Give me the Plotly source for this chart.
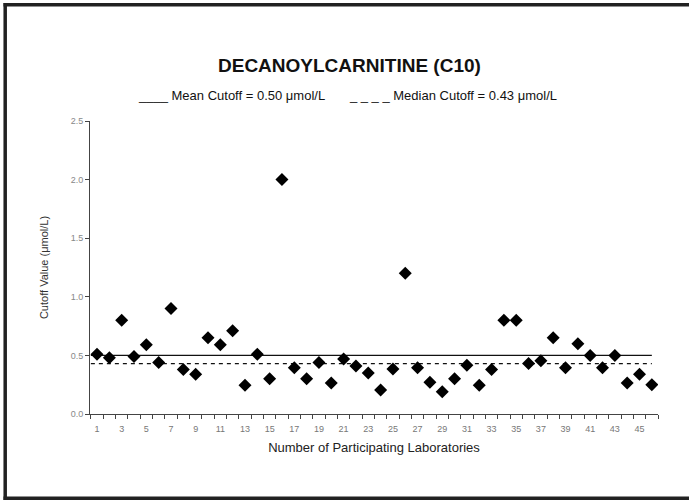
import plotly.graph_objects as go

# Cutoff values reported by each participating laboratory (umol/L)
labs = list(range(1, 47))
cutoffs = [0.51, 0.48, 0.80, 0.49, 0.59, 0.44, 0.90, 0.38, 0.34, 0.65,
           0.59, 0.71, 0.245, 0.51, 0.30, 2.00, 0.395, 0.30, 0.44, 0.265,
           0.47, 0.41, 0.35, 0.205, 0.385, 1.20, 0.395, 0.27, 0.19, 0.30,
           0.415, 0.245, 0.38, 0.80, 0.80, 0.43, 0.455, 0.65, 0.395, 0.60,
           0.50, 0.395, 0.50, 0.265, 0.34, 0.25]
mean_cutoff = 0.50
median_cutoff = 0.43

x_ticks = list(range(1, 47, 2))
y_ticks = [0.0, 0.5, 1.0, 1.5, 2.0, 2.5]

W, H = 689, 500
L, R, T, B = 90, 31, 121, 86
PW, PH = W - L - R, H - T - B


def px(x):
    return (x - L) / PW


def py(y):
    return (H - B - y) / PH


FONT = "Liberation Sans, Arial, sans-serif"

fig = go.Figure()

fig.add_trace(go.Scatter(
    x=[0.5, labs[-1]], y=[mean_cutoff, mean_cutoff], mode="lines",
    line=dict(color="#111", width=1.3), hoverinfo="skip", showlegend=False))
fig.add_trace(go.Scatter(
    x=[0.5, labs[-1]], y=[median_cutoff, median_cutoff], mode="lines",
    line=dict(color="#111", width=1.3, dash="4px,4px"), hoverinfo="skip",
    showlegend=False))
fig.add_trace(go.Scatter(
    x=labs, y=cutoffs, mode="markers",
    marker=dict(symbol="diamond", size=10, color="#000"),
    showlegend=False))

fig.update_xaxes(
    range=[0.43, 46.5], tickvals=x_ticks, ticktext=[str(v) for v in x_ticks],
    ticks="", showline=True, linecolor="#444", linewidth=1, showgrid=False,
    zeroline=False, tickfont=dict(family=FONT, size=9, color="#777"),
    ticklabelstandoff=6,
    minor=dict(tick0=0.5, dtick=1, ticks="outside", ticklen=4,
               tickcolor="#444", showgrid=False),
    title=dict(text="Number of Participating Laboratories",
               font=dict(family=FONT, size=13, color="#222"), standoff=10))
fig.update_yaxes(
    range=[0, 2.5], tickvals=y_ticks, tickformat=".1f",
    ticks="outside", ticklen=4, tickcolor="#444", showline=True,
    linecolor="#444", linewidth=1, showgrid=False, zeroline=False,
    tickfont=dict(family=FONT, size=9, color="#888"),
    title=dict(text="Cutoff Value (μmol/L)",
               font=dict(family=FONT, size=11, color="#333"), standoff=19))

fig.add_annotation(
    x=px(349), y=py(65), xref="paper", yref="paper", showarrow=False,
    xanchor="center", yanchor="middle",
    text="<b>DECANOYLCARNITINE (C10)</b>",
    font=dict(family=FONT, size=19, color="#111"))
fig.add_annotation(
    x=px(136), y=py(95), xref="paper", yref="paper", showarrow=False,
    xanchor="left", yanchor="middle",
    text="____ Mean Cutoff = 0.50 μmol/L       _ _ _ _ Median Cutoff = 0.43 μmol/L",
    font=dict(family=FONT, size=13, color="#111"))

# dark frame on the top, left and bottom edges
frame = dict(color="#222", width=3.5)
fig.add_shape(type="line", xref="paper", yref="paper",
              x0=px(3.5), x1=px(W), y0=py(4.7), y1=py(4.7), line=frame)
fig.add_shape(type="line", xref="paper", yref="paper",
              x0=px(5.2), x1=px(5.2), y0=py(3), y1=py(H), line=frame)
fig.add_shape(type="line", xref="paper", yref="paper",
              x0=px(3.5), x1=px(W), y0=py(498.2), y1=py(498.2), line=frame)

fig.update_layout(
    width=W, height=H, margin=dict(l=L, r=R, t=T, b=B),
    paper_bgcolor="white", plot_bgcolor="white",
    font=dict(family=FONT))

fig.write_html("out.html")
